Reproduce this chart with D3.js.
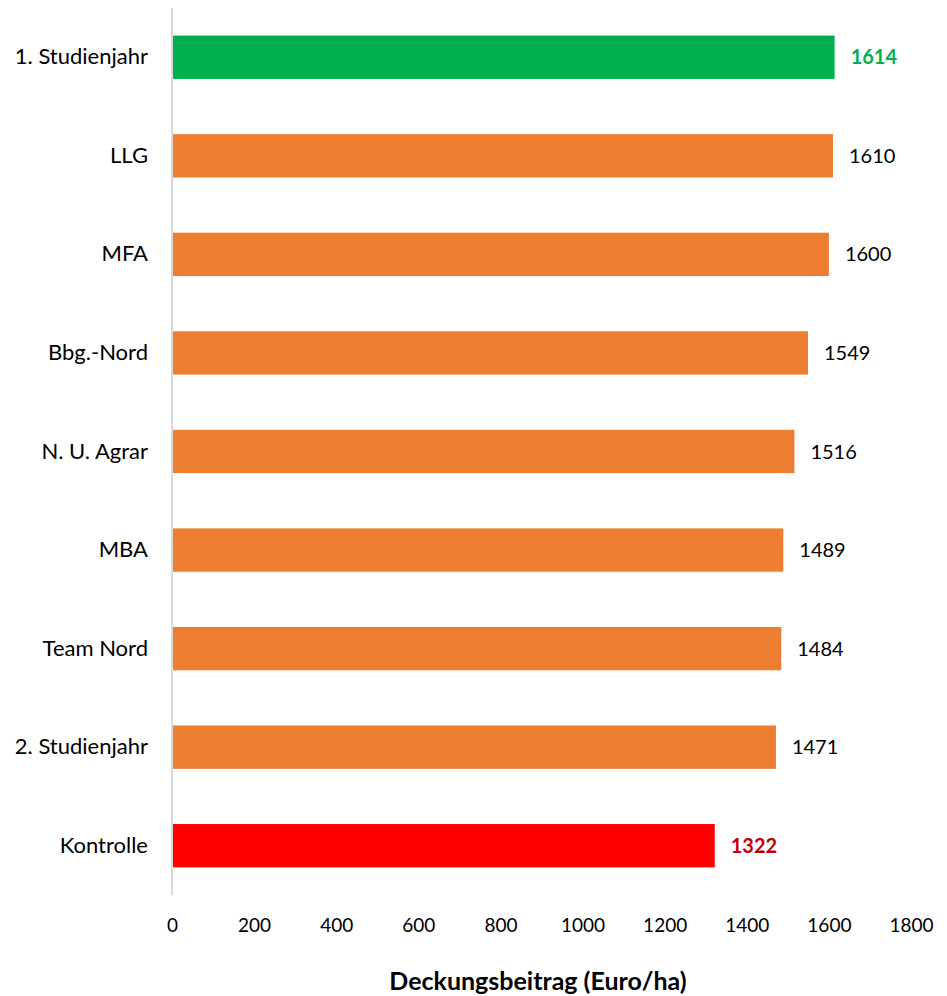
<!DOCTYPE html>
<html>
<head>
<meta charset="utf-8">
<script src="https://cdn.jsdelivr.net/npm/d3@7"></script>
<style>
  body { margin: 0; background: #fff; }
  svg text { font-family: Lato, 'Noto Sans', sans-serif; }
</style>
</head>
<body>
<div id="chart"></div>
<script>
// data
const categories = ['1. Studienjahr', 'LLG', 'MFA', 'Bbg.-Nord', 'N. U. Agrar', 'MBA', 'Team Nord', '2. Studienjahr', 'Kontrolle'];
const values = [1614, 1610, 1600, 1549, 1516, 1489, 1484, 1471, 1322];
const xTicks = [0, 200, 400, 600, 800, 1000, 1200, 1400, 1600, 1800];

const W = 947, H = 996;
const margin = { top: 8, right: 36, bottom: 101, left: 172 };
const width = W - margin.left - margin.right;
const height = H - margin.top - margin.bottom;

const barColor = (d, i) => i === 0 ? '#00B050' : (i === categories.length - 1 ? '#FF0000' : '#ED7D31');
const labelColor = (d, i) => i === 0 ? '#00B050' : (i === categories.length - 1 ? '#C00000' : '#000');

const svg = d3.select('#chart')
  .append('svg')
  .attr('width', W)
  .attr('height', H)
  .append('g')
  .attr('transform', `translate(${margin.left}, ${margin.top})`);

const xScale = d3.scaleLinear().domain([0, 1800]).range([0, 739]);
const yScale = d3.scaleBand().domain(categories).range([0, height]).paddingInner(0.56).paddingOuter(0.28);

// bars
svg.selectAll('rect.bar')
  .data(values)
  .enter()
  .append('rect')
  .attr('class', 'bar')
  .attr('x', 0)
  .attr('y', (d, i) => yScale(categories[i]))
  .attr('width', d => xScale(d))
  .attr('height', yScale.bandwidth())
  .attr('fill', barColor);

// y axis line
svg.append('line')
  .attr('x1', 0).attr('x2', 0)
  .attr('y1', 0).attr('y2', height)
  .attr('stroke', '#d9d9d9')
  .attr('stroke-width', 2);

// category labels
const yAxis = d3.axisLeft(yScale).tickSize(0).tickPadding(24);
const yG = svg.append('g').call(yAxis);
yG.select('.domain').remove();
yG.selectAll('text')
  .style('font-size', '22px')
  .attr('fill', '#000');

// x axis labels
const xAxis = d3.axisBottom(xScale).tickValues(xTicks).tickFormat(d3.format('d')).tickSize(0).tickPadding(24);
const xG = svg.append('g').attr('transform', `translate(0, ${height})`).call(xAxis);
xG.select('.domain').remove();
xG.selectAll('text')
  .style('font-size', '19px')
  .attr('fill', '#000');

// value labels
svg.selectAll('text.val')
  .data(values)
  .enter()
  .append('text')
  .attr('class', 'val')
  .attr('x', d => xScale(d) + 16)
  .attr('y', (d, i) => yScale(categories[i]) + yScale.bandwidth() / 2)
  .attr('dy', '0.35em')
  .style('font-size', '20px')
  .style('font-weight', (d, i) => (i === 0 || i === categories.length - 1) ? 'bold' : 'normal')
  .attr('fill', labelColor)
  .text(d => d);

// x axis title
svg.append('text')
  .attr('x', 366)
  .attr('y', 990 - margin.top)
  .attr('text-anchor', 'middle')
  .style('font-size', '25px')
  .style('font-weight', 'bold')
  .text('Deckungsbeitrag (Euro/ha)');
</script>
</body>
</html>
